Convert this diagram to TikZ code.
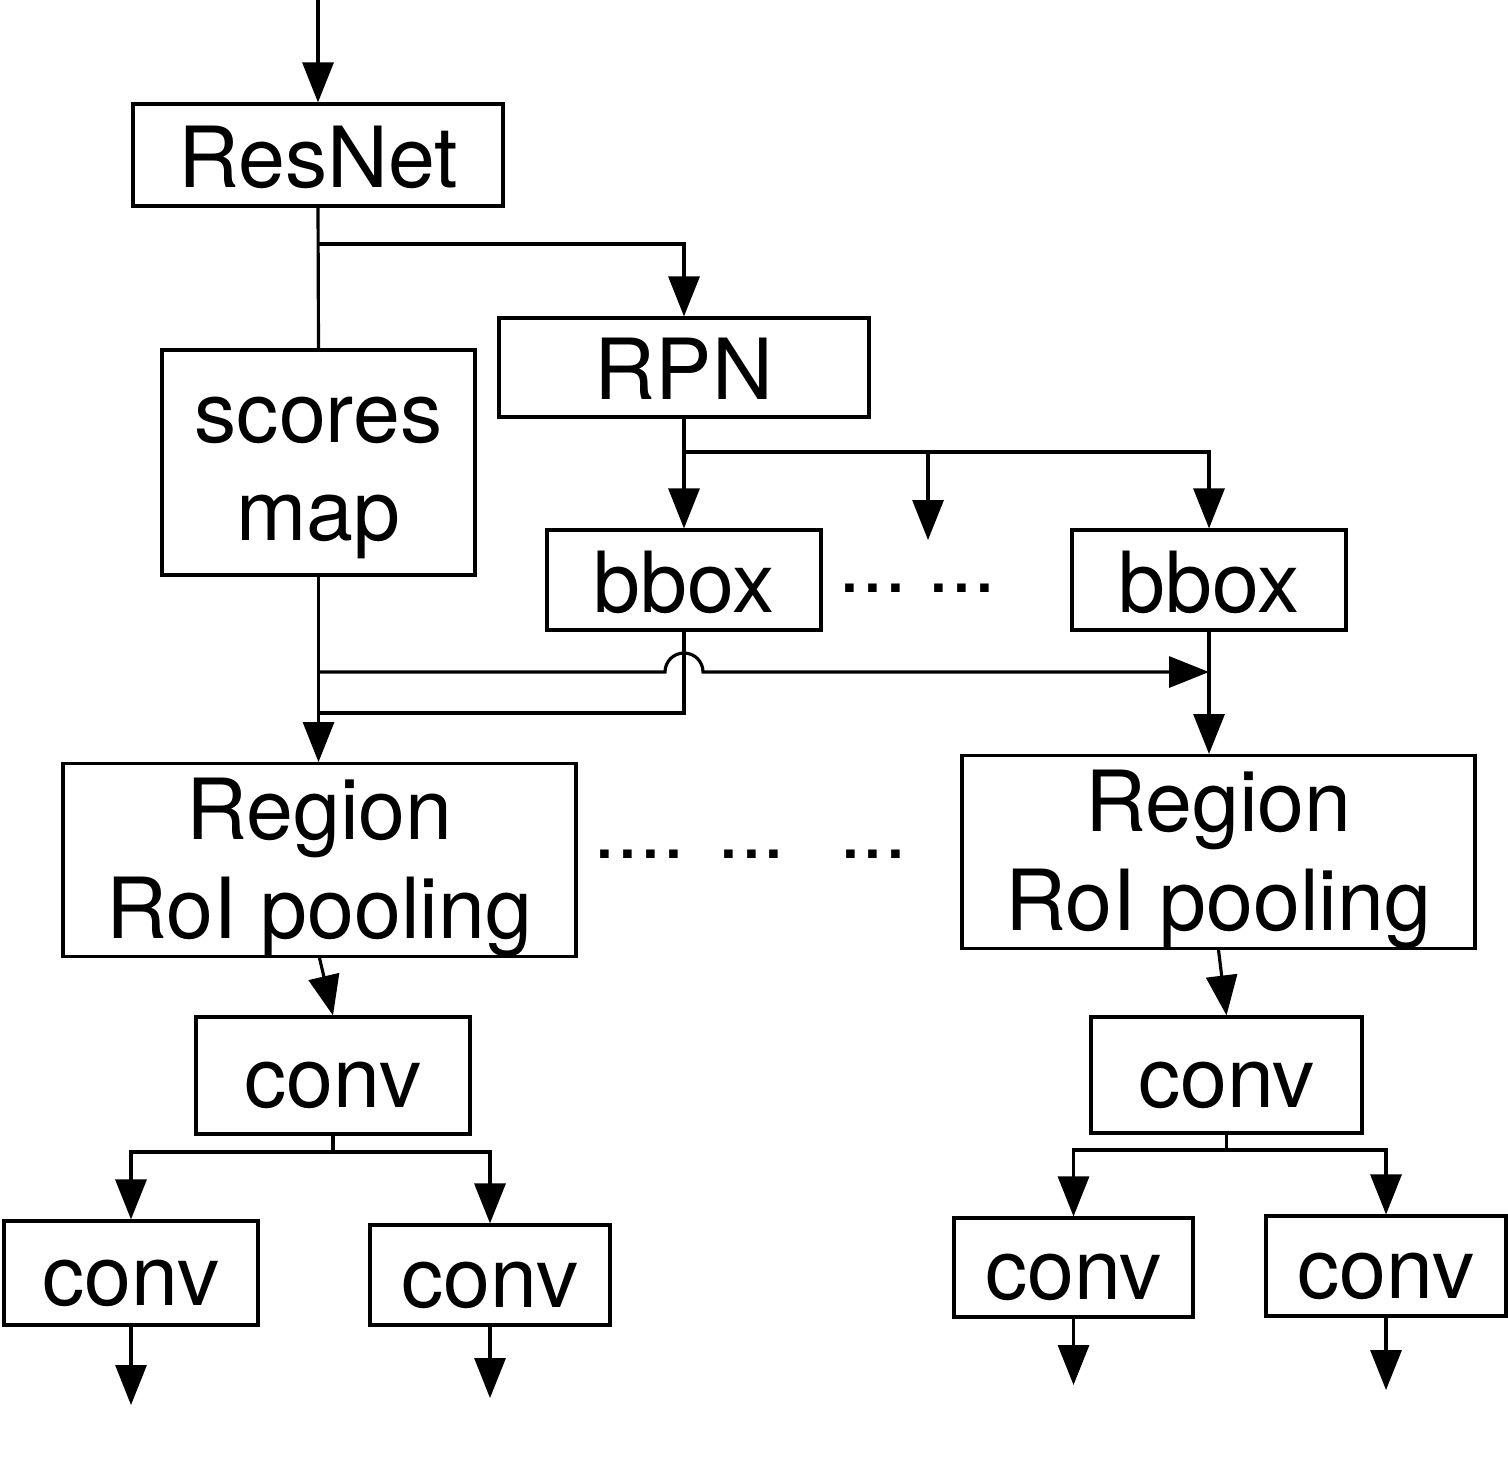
\documentclass[tikz,border=0pt]{standalone}
\usepackage{fontspec}
\setmainfont{TeX Gyre Heros}
\usetikzlibrary{arrows.meta}
\newcommand{\lstrut}{\rule[-0.12cm]{0pt}{0.88cm}}

\begin{document}
\begin{tikzpicture}[>={Triangle[length=4mm,width=3.1mm]},line width=0.9pt,
  blk/.style={draw,inner sep=0pt,align=center,font=\fontsize{24}{28}\selectfont},
  dots/.style={inner sep=0pt,font=\fontsize{23.3}{28}\selectfont}]
  \useasboundingbox (0,0) rectangle (15.08,-14.66);
  % backbone and proposals
  \node[blk,minimum width=3.7cm,minimum height=1.02cm] (resnet) at (3.18,-1.55) {\lstrut ResNet};
  \node[blk,minimum width=3.13cm,minimum height=2.25cm] (scores) at (3.185,-4.625) {\lstrut scores\\\lstrut map};
  \node[blk,minimum width=3.7cm,minimum height=0.99cm] (rpn) at (6.84,-3.675) {\lstrut RPN};
  \node[blk,minimum width=2.74cm,minimum height=1cm] (bboxa) at (6.84,-5.80) {\lstrut bbox};
  \node[blk,minimum width=2.74cm,minimum height=1cm] (bboxb) at (12.09,-5.80) {\lstrut bbox};
  \node[dots] (bdotsa) at (8.73,-5.88) {...};
  \node[dots] (bdotsb) at (9.62,-5.88) {...};
  % pooling
  \node[blk,minimum width=5.13cm,minimum height=1.88cm] (regl) at (3.195,-8.60) {\lstrut Region\\\lstrut RoI pooling};
  \node[blk,minimum width=5.13cm,minimum height=1.88cm] (regr) at (12.185,-8.52) {\lstrut Region\\\lstrut RoI pooling};
  \node[dots] (rdotsa) at (6.395,-8.54) {....};
  \node[dots] (rdotsb) at (7.515,-8.54) {...};
  \node[dots] (rdotsc) at (8.733,-8.54) {...};
  % heads
  \node[blk,minimum width=2.74cm,minimum height=1.17cm] (convl) at (3.33,-10.755) {\lstrut conv};
  \node[blk,minimum width=2.71cm,minimum height=1.16cm] (convr) at (12.265,-10.75) {\lstrut conv};
  \node[blk,minimum width=2.54cm,minimum height=1.04cm] (ca) at (1.31,-12.73) {\lstrut conv};
  \node[blk,minimum width=2.4cm,minimum height=1cm] (cb) at (4.90,-12.75) {\lstrut conv};
  \node[blk,minimum width=2.39cm,minimum height=0.99cm] (cc) at (10.735,-12.675) {\lstrut conv};
  \node[blk,minimum width=2.4cm,minimum height=1cm] (cd) at (13.86,-12.66) {\lstrut conv};

  \coordinate (in) at (3.18,0);
  \coordinate (r1) at (3.18,-2.44);
  \coordinate (r2) at (6.84,-4.52);
  \coordinate (mid) at (9.28,-5.40);
  \coordinate (s1) at (3.18,-6.72);
  \coordinate (s2) at (3.18,-7.13);
  \coordinate (hop) at (6.84,-6.72);
  \coordinate (sl) at (3.33,-11.52);
  \coordinate (sr) at (12.265,-11.50);
  \coordinate (oa) at (1.31,-14.05);
  \coordinate (ob) at (4.90,-13.98);
  \coordinate (oc) at (10.735,-13.85);
  \coordinate (od) at (13.86,-13.90);

  \draw[->] (in) -- (resnet.north);
  \draw (resnet.south) -- (scores.north);
  \draw[->] (r1) -| (rpn.north);
  \draw[->] (rpn.south) -- (bboxa.north);
  \draw[->] (r2) -| (bboxb.north);
  \draw[->] (r2 -| mid) -- (mid);
  \draw[->] (scores.south) -- (scores.south |- regl.north);
  \draw[->] (s1) -- ([xshift=-0.19cm]hop) arc[start angle=180,end angle=0,radius=0.19cm] -- (bboxb.south |- s1);
  \draw (bboxa.south) |- (s2);
  \draw[->] (bboxb.south) -- (bboxb.south |- regr.north);
  \draw[->] (regl.south) -- (convl.north);
  \draw[->] (regr.south) -- (convr.north);
  \draw (convl.south) -- (sl);
  \draw[->] (sl) -| (ca.north);
  \draw[->] (sl) -| (cb.north);
  \draw (convr.south) -- (sr);
  \draw[->] (sr) -| (cc.north);
  \draw[->] (sr) -| (cd.north);
  \draw[->] (ca.south) -- (oa);
  \draw[->] (cb.south) -- (ob);
  \draw[->] (cc.south) -- (oc);
  \draw[->] (cd.south) -- (od);
\end{tikzpicture}
\end{document}
